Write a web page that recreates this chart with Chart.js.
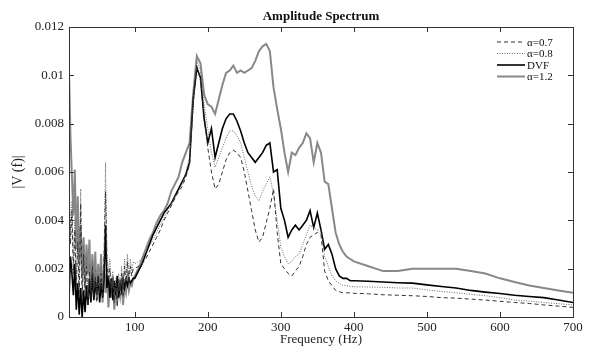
<!DOCTYPE html>
<html>
<head>
<meta charset="utf-8">
<script src="https://cdn.jsdelivr.net/npm/chart.js@4.4.0/dist/chart.umd.min.js"></script>
<style>
  html, body { margin: 0; padding: 0; background: #fff; }
  #chart { display: block; }
</style>
</head>
<body>
<canvas id="chart" width="589" height="347"></canvas>
<script>
// sample frequencies (Hz)
const freq = [
  10, 12, 14, 16, 18, 20, 22, 24, 26, 28,
  30, 32, 34, 36, 38, 40, 42, 44, 46, 48,
  50, 52, 54, 56, 58, 60, 62, 64, 66, 68,
  70, 72, 74, 76, 78, 80, 82, 84, 86, 88,
  90, 92, 94, 96, 98,
  100, 105, 110, 115, 120, 125, 130, 135, 140, 145,
  150, 155, 160, 165, 170, 175, 180, 185, 190, 195,
  200, 205, 210, 215, 220, 225, 230, 235, 240, 245,
  250, 255, 260, 265, 270, 275, 280, 285, 290, 295,
  300, 305, 310, 315, 320, 325, 330, 335, 340, 345,
  350, 355, 360, 365, 370, 375, 380, 385, 390, 395,
  400, 420, 440, 460, 480, 500, 520, 540, 560, 580,
  600, 620, 640, 660, 680, 700
];

const alpha07 = [
  0.0055, 0.003, 0.0044, 0.0018, 0.0036, 0.0012, 0.0031, 0.0008, 0.0047, 0.0006,
  0.0026, 0.001, 0.0021, 0.0005, 0.0019, 0.0008, 0.0021, 0.0009, 0.0017, 0.0006,
  0.0015, 0.001, 0.0018, 0.0008, 0.0024, 0.0052, 0.0022, 0.0015, 0.002, 0.001,
  0.0016, 0.0006, 0.0014, 0.0004, 0.0016, 0.0009, 0.0018, 0.0008, 0.0021, 0.0013,
  0.0023, 0.0014, 0.0021, 0.0017, 0.002,
  0.002, 0.0021, 0.0022, 0.0024, 0.0027, 0.003, 0.0033, 0.0036, 0.004, 0.0043,
  0.0046, 0.0049, 0.0052, 0.0054, 0.0058, 0.0063, 0.0088, 0.0104, 0.0098, 0.0084,
  0.007, 0.006, 0.0053, 0.0055, 0.006, 0.0065, 0.0068, 0.0069, 0.0068, 0.0066,
  0.006, 0.0052, 0.0044, 0.0036, 0.0031, 0.0033, 0.0039, 0.0045, 0.0053, 0.0035,
  0.0022, 0.002, 0.0018, 0.0017, 0.0019, 0.0021, 0.0025, 0.003, 0.0033, 0.0034,
  0.0035, 0.0034, 0.0019, 0.0015, 0.0013, 0.0011, 0.00105, 0.001, 0.001, 0.001,
  0.00098, 0.00096, 0.00092, 0.0009, 0.00088, 0.00085, 0.0008, 0.00078, 0.00074, 0.0007,
  0.00065, 0.0006, 0.00056, 0.0005, 0.00045, 0.0004
];

const alpha08 = [
  0.0062, 0.0035, 0.0048, 0.0022, 0.0041, 0.0015, 0.0036, 0.0012, 0.0053, 0.0009,
  0.003, 0.0014, 0.0025, 0.0008, 0.0022, 0.0011, 0.0024, 0.0012, 0.002, 0.0009,
  0.0018, 0.0013, 0.0021, 0.0011, 0.0028, 0.0064, 0.0027, 0.0018, 0.0024, 0.0012,
  0.0019, 0.0009, 0.0016, 0.0006, 0.0018, 0.0011, 0.0021, 0.0009, 0.0024, 0.0015,
  0.0026, 0.0016, 0.0024, 0.0019, 0.0023,
  0.0022, 0.0023, 0.0024, 0.0027, 0.0029, 0.0032, 0.0035, 0.0038, 0.0041, 0.0044,
  0.0047, 0.005, 0.0052, 0.0055, 0.006, 0.0066, 0.009, 0.0106, 0.0102, 0.0088,
  0.0078, 0.0068, 0.0062, 0.0066, 0.007, 0.0074, 0.0077, 0.0077, 0.0075, 0.0072,
  0.0066, 0.006, 0.0054, 0.005, 0.0048, 0.0052, 0.0055, 0.0058, 0.0051, 0.004,
  0.0029, 0.0025, 0.0022, 0.0023, 0.0025, 0.0026, 0.003, 0.0034, 0.0038, 0.0037,
  0.0036, 0.0036, 0.0025, 0.0021, 0.0017, 0.0015, 0.0014, 0.0013, 0.0013, 0.00127,
  0.00125, 0.00124, 0.00123, 0.0012, 0.0012, 0.00112, 0.00106, 0.001, 0.00094, 0.00088,
  0.0008, 0.0007, 0.00066, 0.0006, 0.00055, 0.0005
];

const dvf = [
  0.0007, 0.0025, 0.0018, 0.0009, 0.0022, 0.0003, 0.0014, 0.0001, 0.0012, 0.0,
  0.0011, 0.0002, 0.0013, 0.0005, 0.0016, 0.0006, 0.0018, 0.0007, 0.0015, 0.0009,
  0.0017, 0.0006, 0.0014, 0.0008, 0.0016, 0.0038, 0.0012, 0.0017, 0.0008, 0.0016,
  0.0007, 0.0015, 0.0009, 0.0017, 0.0008, 0.0014, 0.0011, 0.0016, 0.0012, 0.0015,
  0.0013, 0.0016, 0.0014, 0.0015, 0.0016,
  0.0016, 0.0019, 0.0022, 0.0026, 0.003, 0.0034, 0.0037, 0.004, 0.0043, 0.0045,
  0.0047, 0.005, 0.0053, 0.0056, 0.0059, 0.0064, 0.009, 0.0103, 0.0099, 0.0082,
  0.0072, 0.0078, 0.0066, 0.0072, 0.0078, 0.0082, 0.0084, 0.0084, 0.0081, 0.0077,
  0.0072, 0.0068, 0.0066, 0.0064, 0.0066, 0.0068, 0.0071, 0.0072, 0.006, 0.0061,
  0.0045, 0.004, 0.0033, 0.0036, 0.0038, 0.0036, 0.0038, 0.004, 0.0044, 0.0037,
  0.0043, 0.0036, 0.0028, 0.003, 0.0026, 0.002, 0.0017, 0.0016, 0.0016, 0.0015,
  0.0015, 0.00148, 0.00145, 0.00142, 0.0014, 0.00133, 0.00126, 0.0012, 0.0011, 0.00103,
  0.00097, 0.0009, 0.00085, 0.0008, 0.0007, 0.0006
];

const alpha12 = [
  0.0102, 0.0075, 0.0058, 0.0042, 0.0061, 0.0028, 0.005, 0.0022, 0.0038, 0.0016,
  0.0033, 0.0012, 0.003, 0.0018, 0.0032, 0.0008, 0.0026, 0.0012, 0.0027, 0.0007,
  0.0022, 0.0012, 0.0026, 0.0006, 0.0021, 0.001, 0.0018, 0.0004, 0.0015, 0.0008,
  0.0017, 0.0003, 0.0012, 0.0006, 0.0014, 0.0009, 0.0016, 0.0005, 0.0013, 0.001,
  0.0016, 0.0011, 0.0014, 0.0013, 0.0016,
  0.0017, 0.002, 0.0024, 0.0028, 0.0032, 0.0035, 0.0039, 0.0042, 0.0044, 0.0047,
  0.0052, 0.0055, 0.0058, 0.0064, 0.0068, 0.0072, 0.0092, 0.0108, 0.0105, 0.0092,
  0.0088, 0.0087, 0.0084, 0.009, 0.0096, 0.0101, 0.0102, 0.0104, 0.0101, 0.0102,
  0.0101, 0.0102, 0.0103, 0.0106, 0.011, 0.0112, 0.0113, 0.011, 0.0095, 0.0086,
  0.0078, 0.0068, 0.006, 0.0068, 0.0067, 0.007, 0.0072, 0.0076, 0.0074, 0.0064,
  0.0072, 0.0068, 0.0056, 0.0055, 0.0045, 0.0035, 0.003, 0.0027, 0.0025, 0.0024,
  0.0023, 0.0021, 0.0019, 0.0019, 0.002, 0.002, 0.002, 0.002, 0.0019, 0.0018,
  0.0016, 0.00145, 0.0013, 0.0012, 0.0011, 0.001
];

const xTicks = [100, 200, 300, 400, 500, 600, 700];
const yTicks = [0, 0.002, 0.004, 0.006, 0.008, 0.01, 0.012];
const yTickLabels = ["0", "0.002", "0.004", "0.006", "0.008", "0.01", "0.012"];

const FONT = '"Liberation Serif", "DejaVu Serif", serif';

const toPoints = (vals) => vals.map((v, i) => ({ x: freq[i], y: v }));

// frame, inward ticks, title and legend like the matlab figure
const framePlugin = {
  id: "frame",
  afterDraw(chart) {
    const { ctx, chartArea: a, scales } = chart;
    const x = scales.x, y = scales.y;
    ctx.save();
    ctx.strokeStyle = "#333";
    ctx.lineWidth = 1;
    ctx.strokeRect(a.left + 0.5, a.top + 0.5, a.right - a.left, a.bottom - a.top);
    ctx.beginPath();
    xTicks.forEach((v) => {
      const px = Math.round(x.getPixelForValue(v)) + 0.5;
      ctx.moveTo(px, a.bottom); ctx.lineTo(px, a.bottom - 5);
      ctx.moveTo(px, a.top); ctx.lineTo(px, a.top + 5);
    });
    yTicks.forEach((v) => {
      const py = Math.round(y.getPixelForValue(v)) + 0.5;
      ctx.moveTo(a.left, py); ctx.lineTo(a.left + 5, py);
      ctx.moveTo(a.right, py); ctx.lineTo(a.right - 5, py);
    });
    ctx.stroke();

    ctx.fillStyle = "#111";
    ctx.font = "bold 13px " + FONT;
    ctx.textAlign = "center";
    ctx.textBaseline = "alphabetic";
    ctx.fillText("Amplitude Spectrum", (a.left + a.right) / 2, 20);

    ctx.textAlign = "left";
    ctx.textBaseline = "middle";
    ctx.font = "11px " + FONT;
    chart.data.datasets.forEach((ds, i) => {
      const ly = a.top + 15 + i * 11.5;
      ctx.strokeStyle = ds.borderColor;
      ctx.lineWidth = ds.borderWidth;
      ctx.setLineDash(ds.borderDash || []);
      ctx.beginPath();
      ctx.moveTo(a.right - 76, ly);
      ctx.lineTo(a.right - 48, ly);
      ctx.stroke();
      ctx.setLineDash([]);
      ctx.fillStyle = "#111";
      ctx.fillText(ds.label, a.right - 46, ly + 1);
    });
    ctx.restore();
  },
};

const ctx = document.getElementById("chart");
new Chart(ctx, {
  type: "line",
  data: {
    datasets: [
      {
        label: "α=0.7",
        data: toPoints(alpha07),
        borderColor: "#333",
        borderWidth: 1,
        borderDash: [4, 3],
      },
      {
        label: "α=0.8",
        data: toPoints(alpha08),
        borderColor: "#666",
        borderWidth: 1,
        borderDash: [1, 1.5],
      },
      {
        label: "DVF",
        data: toPoints(dvf),
        borderColor: "#000",
        borderWidth: 1.6,
      },
      {
        label: "α=1.2",
        data: toPoints(alpha12),
        borderColor: "#888",
        borderWidth: 2,
      },
    ],
  },
  options: {
    responsive: false,
    animation: false,
    devicePixelRatio: 1,
    elements: { point: { radius: 0 }, line: { tension: 0 } },
    layout: { padding: { top: 27, right: 16, left: 0, bottom: 0 } },
    plugins: {
      legend: { display: false },
      title: { display: false },
      tooltip: { enabled: false },
    },
    scales: {
      x: {
        type: "linear",
        min: 10,
        max: 700,
        grid: { display: false, drawTicks: false },
        border: { display: false },
        afterBuildTicks: (s) => { s.ticks = xTicks.map((v) => ({ value: v })); },
        afterFit: (s) => { s.height = 30; },
        ticks: { color: "#222", font: { family: FONT, size: 13 }, padding: 3, maxRotation: 0 },
        title: {
          display: true,
          text: "Frequency (Hz)",
          color: "#222",
          font: { family: FONT, size: 13 },
          padding: { top: 0, bottom: 0 },
        },
      },
      y: {
        min: 0,
        max: 0.012,
        grid: { display: false, drawTicks: false },
        border: { display: false },
        afterBuildTicks: (s) => { s.ticks = yTicks.map((v) => ({ value: v })); },
        afterFit: (s) => { s.width = 69; },
        ticks: {
          color: "#222",
          font: { family: FONT, size: 13 },
          padding: 5,
          callback: (v) => yTickLabels[yTicks.indexOf(v)] ?? "",
        },
        title: {
          display: true,
          text: "|V (f)|",
          color: "#222",
          font: { family: FONT, size: 14 },
          padding: { top: 10, bottom: 0 },
        },
      },
    },
  },
  plugins: [framePlugin],
});
</script>
</body>
</html>
